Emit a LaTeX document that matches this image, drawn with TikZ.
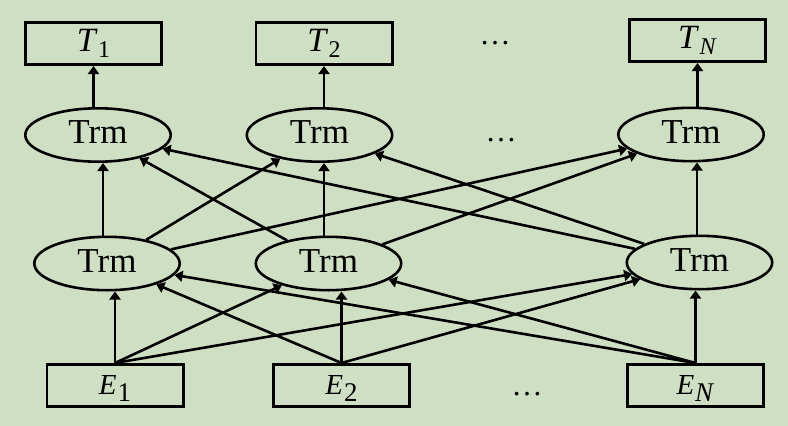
\documentclass[tikz,border=0pt]{standalone}
\usepackage{fontspec}
\setmainfont{Liberation Serif}
\usetikzlibrary{arrows.meta,shapes.geometric}
\definecolor{bgcol}{RGB}{206,223,195}
\newcommand{\trmtext}{{\fontsize{35}{35}\selectfont Trm}}
\newcommand{\ttext}[1]{{\fontsize{34}{34}\selectfont\textit{T}\kern0.5pt\raisebox{-6pt}{\fontsize{24}{24}\selectfont #1}}}
\newcommand{\etext}[1]{{\fontsize{29}{29}\selectfont\textit{E}\kern1pt\raisebox{-6pt}{\fontsize{27}{27}\selectfont #1}}}
\newcommand{\dotstext}{{\fontsize{31}{31}\selectfont …}}
\begin{document}
\begin{tikzpicture}[x=1pt,y=-1pt,
  tbox/.style={draw,line width=2.6pt,rectangle,minimum width=136.4pt,minimum height=42.4pt,inner sep=0pt},
  ebox/.style={draw,line width=2.6pt,rectangle,minimum width=136.4pt,minimum height=42.4pt,inner sep=0pt,text depth=0pt},
  trm/.style={draw,line width=2.6pt,ellipse,minimum width=145.4pt,minimum height=53.4pt,inner sep=0pt,text depth=5pt},
  arr/.style={line width=2.6pt,-{Triangle[length=8pt,width=11pt]}},
  dotnode/.style={inner sep=0pt}]
\fill[bgcol] (0,0) rectangle (788,426);
\useasboundingbox (0,0) rectangle (788,426);
% top boxes
\node[tbox] (T1) at (93.5,43.5) {\ttext{1}};
\node[tbox] (T2) at (324,43.5) {\ttext{2}};
\node[tbox] (TN) at (697.5,40.5) {\ttext{\textit{N}}};
% top Trm
\node[trm] (t1) at (98,135) {\trmtext};
\node[trm] (t2) at (319.5,135) {\trmtext};
\node[trm] (tN) at (691,134.5) {\trmtext};
% bottom Trm
\node[trm] (b1) at (107,263.5) {\trmtext};
\node[trm] (b2) at (328.5,263.5) {\trmtext};
\node[trm] (bN) at (699.5,262.5) {\trmtext};
% E boxes
\node[ebox] (E1) at (115,385.5) {\etext{1}};
\node[ebox] (E2) at (341.5,385.5) {\etext{2}};
\node[ebox] (EN) at (695.5,385.5) {\etext{\textit{N}}};
% dots
\node[dotnode] (d1) at (495,43) {\dotstext};
\node[dotnode] (d2) at (501,140) {\dotstext};
\node[dotnode] (d3) at (527,394) {\dotstext};
% E -> bottom Trm
\draw[arr] (E1.north) -- (E1.north |- b1.south);
\draw[arr] (E1.north) -- (b2);
\draw[arr] (E1.north) -- (bN);
\draw[arr] (E2.north) -- (E2.north |- b2.south);
\draw[arr] (E2.north) -- (b1);
\draw[arr] (E2.north) -- (bN);
\draw[arr] (EN.north) -- (EN.north |- bN.south);
\draw[arr] (EN.north) -- (b1);
\draw[arr] (EN.north) -- (b2);
% bottom Trm -> top Trm
\draw[arr] ([xshift=-4pt]b1.north) -- ([xshift=-4pt]b1.north |- t1.south);
\draw[arr] (b1) -- (t2);
\draw[arr] (b1) -- (tN);
\draw[arr] ([xshift=-4.5pt]b2.north) -- ([xshift=-4.5pt]b2.north |- t2.south);
\draw[arr] (b2) -- (t1);
\draw[arr] (b2) -- (tN);
\draw[arr] ([xshift=-2.5pt]bN.north) -- ([xshift=-2.5pt]bN.north |- tN.south);
\draw[arr] (bN) -- (t1);
\draw[arr] (bN) -- (t2);
% top Trm -> T
\draw[arr] (T1.south |- t1.north) -- (T1.south);
\draw[arr] (T2.south |- t2.north) -- (T2.south);
\draw[arr] (TN.south |- tN.north) -- (TN.south);
\end{tikzpicture}
\end{document}
